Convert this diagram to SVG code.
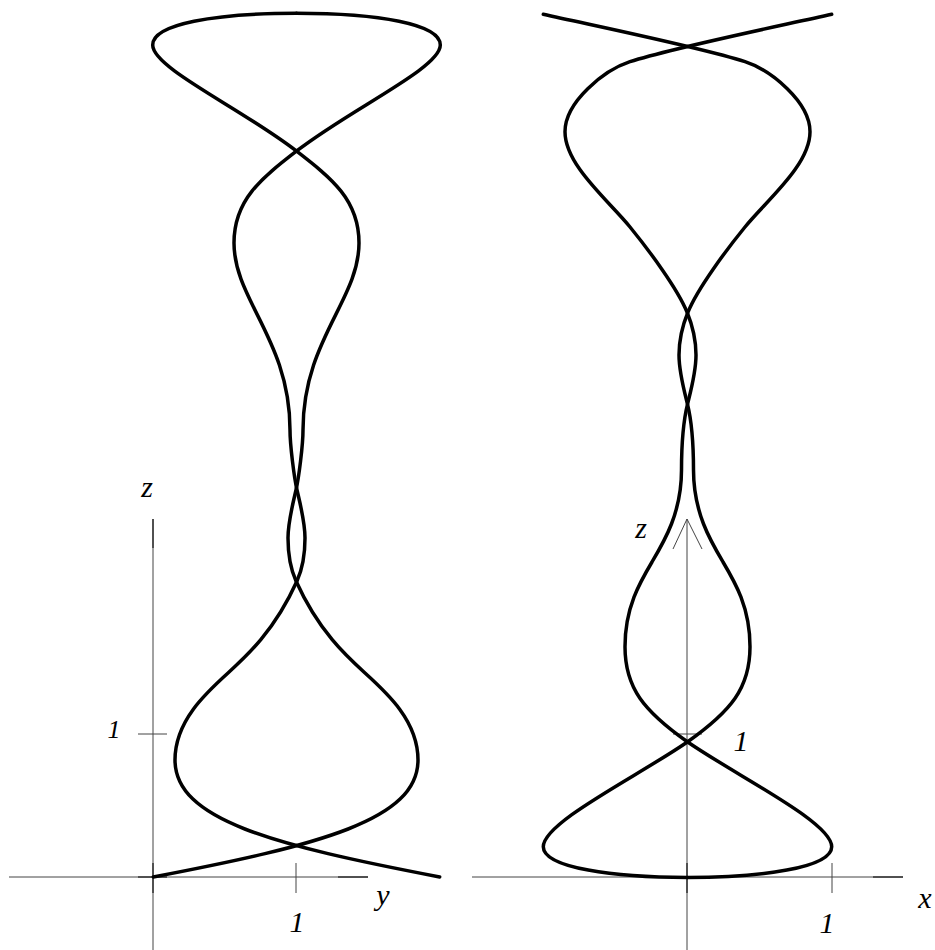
<svg xmlns="http://www.w3.org/2000/svg" xmlns:xlink="http://www.w3.org/1999/xlink" width="935" height="950" viewBox="0 0 935 950">
<style>
.axis{stroke:#444;stroke-width:1;fill:none}
.axd{stroke:#000;stroke-width:1;fill:none}
.curve{stroke:#000;stroke-width:3.5;fill:none;stroke-linecap:round;stroke-linejoin:round}
.lbl{font-family:"Liberation Serif","DejaVu Serif",serif;font-style:italic;font-size:30px;fill:#000;text-anchor:middle}
.lbls{font-size:26px}
</style>
<defs>
<path id="halfL" d="M153.3,877 C320,845 418,820 418,760 C418,721 387.2,693.1 365,673 C346.5,656.25 318.5,630.9 296,581 C290.7,569.2 288,552 288,538 C288,522 292.8,504 296,490 C298.8,478 303,445 303,430 C303,340 359,300 359,243 C359,200 332,178.6 296,150.7 C240.7,108 152.7,68 152.7,45 C152.7,24 215,13.3 296.5,13.3"/>
<path id="halfR" d="M687.5,877.5 C760,877.5 831.7,868 831.7,846.7 C831.7,822 736.5,775.9 687.3,741.7 C644,711 625,688 625,646.7 C625,607.5 640,582.2 652,562 C664.75,540.5 681.5,512.3 681.5,470 C681.5,440 684.7,415.3 687.7,403.3 C690.7,391.3 696,372 696,355 C696,338 691.5,323 687,312 C677.5,288.75 649.8,251.3 630,227 C608,200 565,165 565,131.7 C565,102 604,70.2 630,61.7 C672,48 775,27 831.7,14.3"/>
</defs>
<g id="axes-left">
<line class="axis" x1="153" y1="519" x2="153" y2="950"/>
<line class="axis" x1="9" y1="877" x2="368" y2="877"/>
<line class="axd" x1="153" y1="519" x2="153" y2="548"/>
<line class="axd" x1="153" y1="863" x2="153" y2="893"/>
<line class="axd" x1="138" y1="877" x2="167" y2="877"/>
<line class="axd" x1="338" y1="877" x2="368" y2="877"/>
<line class="axis" x1="296" y1="863" x2="296" y2="893"/>
<line class="axis" x1="138" y1="734" x2="167" y2="734"/>
</g>
<g id="axes-right">
<line class="axis" x1="687" y1="519" x2="687" y2="950"/>
<line class="axis" x1="472" y1="877" x2="903" y2="877"/>
<line class="axd" x1="687" y1="863" x2="687" y2="893"/>
<line class="axd" x1="873" y1="877" x2="903" y2="877"/>
<polyline class="axis" points="673,549 687,519 702,549"/>
<line class="axis" x1="832" y1="863" x2="832" y2="893"/>
<line class="axis" x1="673" y1="734" x2="702" y2="734"/>
</g>
<g id="curve-left">
<use xlink:href="#halfL" href="#halfL" class="curve"/>
<use xlink:href="#halfL" href="#halfL" class="curve" transform="translate(593,0) scale(-1,1)"/>
</g>
<g id="curve-right">
<use xlink:href="#halfR" href="#halfR" class="curve"/>
<use xlink:href="#halfR" href="#halfR" class="curve" transform="translate(1375,0) scale(-1,1)"/>
</g>
<g id="labels">
<text class="lbl" x="147" y="497">z</text>
<text class="lbl lbls" x="114" y="738">1</text>
<text class="lbl" x="297" y="932">1</text>
<text class="lbl" x="383" y="905">y</text>
<text class="lbl" x="641" y="538">z</text>
<text class="lbl" x="741" y="751">1</text>
<text class="lbl" x="925" y="908">x</text>
<text class="lbl" x="827" y="933">1</text>
</g>
</svg>
